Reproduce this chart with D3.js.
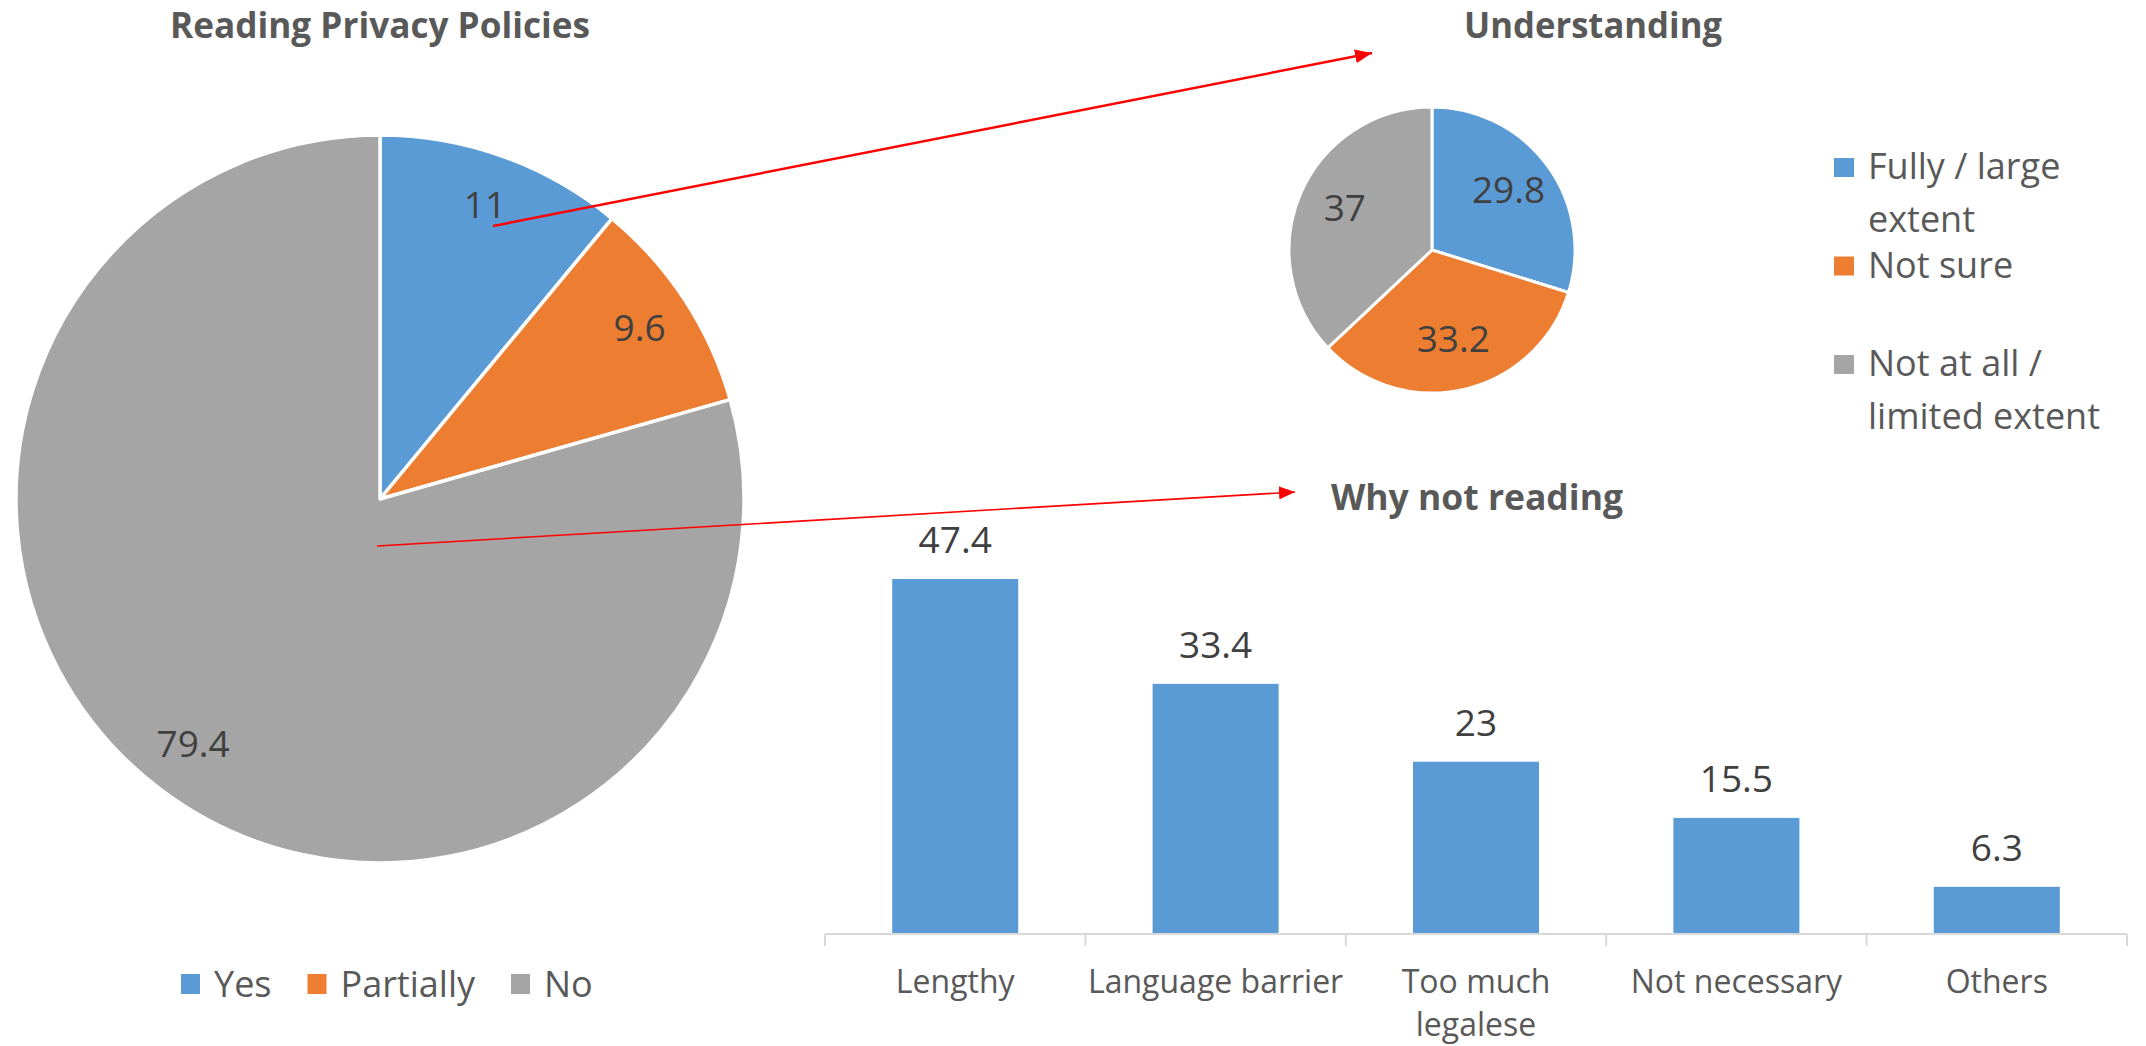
<!DOCTYPE html>
<html>
<head>
<meta charset="utf-8">
<script src="https://cdn.jsdelivr.net/npm/d3@7"></script>
<style>
  html, body { margin: 0; padding: 0; background: #ffffff; }
  svg { display: block; }
  text { font-family: "Open Sans", "Noto Sans", sans-serif; }
</style>
</head>
<body>
<svg id="chart" width="2146" height="1046"></svg>
<script>
// ---- data ----
const readingCategories = ["Yes", "Partially", "No"];
const readingValues = [11, 9.6, 79.4];

const understandingCategories = ["Fully / large extent", "Not sure", "Not at all / limited extent"];
const understandingLegendLines = [["Fully / large", "extent"], ["Not sure"], ["Not at all /", "limited extent"]];
const understandingValues = [29.8, 33.2, 37];

const reasonCategories = ["Lengthy", "Language barrier", "Too much legalese", "Not necessary", "Others"];
const reasonValues = [47.4, 33.4, 23, 15.5, 6.3];

const sliceColors = ["#5B9BD5", "#ED7D31", "#A5A5A5"];

// ---- styling ----
const titleColor = "#595959";
const labelColor = "#404040";
const legendColor = "#595959";
const axisColor = "#D9D9D9";

const svg = d3.select("#chart");

// red annotation arrows
const defs = svg.append("defs");
function arrowMarker(id, len, wid) {
  defs.append("marker")
    .attr("id", id)
    .attr("markerUnits", "userSpaceOnUse")
    .attr("viewBox", `0 0 ${len} ${wid}`)
    .attr("refX", len).attr("refY", wid / 2)
    .attr("markerWidth", len).attr("markerHeight", wid)
    .attr("orient", "auto")
    .append("path")
    .attr("d", `M0,0 L${len},${wid / 2} L0,${wid} Z`)
    .attr("fill", "#FF0000");
}
arrowMarker("arrowA", 17, 14);
arrowMarker("arrowB", 16, 13);

function title(text, x, y, width, anchor) {
  svg.append("text")
    .attr("x", x).attr("y", y)
    .attr("text-anchor", anchor)
    .attr("font-size", 35)
    .attr("font-weight", 700)
    .attr("fill", titleColor)
    .attr("textLength", width)
    .attr("lengthAdjust", "spacingAndGlyphs")
    .text(text);
}

// ---- main pie: reading privacy policies ----
const pie = d3.pie().sort(null).value(d => d);

const bigCx = 380, bigCy = 499, bigR = 364;
const bigG = svg.append("g").attr("transform", `translate(${bigCx},${bigCy})`);
const bigArc = d3.arc().innerRadius(0).outerRadius(bigR);
const bigLabelArc = d3.arc().innerRadius(310).outerRadius(310);
const bigData = pie(readingValues);

bigG.selectAll("path.slice")
  .data(bigData)
  .join("path")
  .attr("class", "slice")
  .attr("d", bigArc)
  .attr("fill", (d, i) => sliceColors[i])
  .attr("stroke", "#ffffff")
  .attr("stroke-width", 3.5)
  .attr("stroke-linejoin", "round");

bigG.selectAll("text.val")
  .data(bigData)
  .join("text")
  .attr("class", "val")
  .attr("x", d => bigLabelArc.centroid(d)[0])
  .attr("y", d => bigLabelArc.centroid(d)[1] + 11)
  .attr("text-anchor", "middle")
  .attr("font-size", 37)
  .attr("fill", labelColor)
  .text(d => d.data);

title("Reading Privacy Policies", bigCx, 38, 420, "middle");

// bottom legend
const legendFont = 36;
const bottomLegend = svg.append("g");
let lx = 181;
readingCategories.forEach((name, i) => {
  bottomLegend.append("rect")
    .attr("x", lx).attr("y", 974)
    .attr("width", 19).attr("height", 20)
    .attr("fill", sliceColors[i]);
  const t = bottomLegend.append("text")
    .attr("x", lx + 33).attr("y", 997)
    .attr("font-size", legendFont)
    .attr("fill", legendColor)
    .text(name);
  lx += 33 + t.node().getComputedTextLength() + 36;
});

// ---- small pie: understanding ----
const smCx = 1432, smCy = 250, smR = 143;
const smG = svg.append("g").attr("transform", `translate(${smCx},${smCy})`);
const smArc = d3.arc().innerRadius(0).outerRadius(smR);
const smLabelArc = d3.arc().innerRadius(95).outerRadius(95);
const smData = pie(understandingValues);

smG.selectAll("path.slice")
  .data(smData)
  .join("path")
  .attr("class", "slice")
  .attr("d", smArc)
  .attr("fill", (d, i) => sliceColors[i])
  .attr("stroke", "#ffffff")
  .attr("stroke-width", 3)
  .attr("stroke-linejoin", "round");

smG.selectAll("text.val")
  .data(smData)
  .join("text")
  .attr("class", "val")
  .attr("x", d => smLabelArc.centroid(d)[0])
  .attr("y", d => smLabelArc.centroid(d)[1] + 9)
  .attr("text-anchor", "middle")
  .attr("font-size", 37)
  .attr("fill", labelColor)
  .text(d => d.data);

title("Understanding", 1464, 38, 258, "start");

// right legend
const rightLegend = svg.append("g");
understandingCategories.forEach((name, i) => {
  const base = 179 + i * 98.5;
  rightLegend.append("rect")
    .attr("x", 1834).attr("y", base - 21)
    .attr("width", 20).attr("height", 19)
    .attr("fill", sliceColors[i]);
  const t = rightLegend.append("text")
    .attr("font-size", legendFont)
    .attr("fill", legendColor);
  understandingLegendLines[i].forEach((line, j) => {
    t.append("tspan")
      .attr("x", 1868)
      .attr("y", base + j * 53)
      .text(line);
  });
});

// ---- bar chart: why not reading ----
const axisY = 934;
const x = d3.scaleBand()
  .domain(reasonCategories)
  .range([825, 2127])
  .paddingInner(0.516)
  .paddingOuter(0.258);
const y = d3.scaleLinear().domain([0, 50]).range([axisY, axisY - 374.5]);

const barG = svg.append("g");
barG.selectAll("rect.bar")
  .data(reasonValues)
  .join("rect")
  .attr("class", "bar")
  .attr("x", (d, i) => x(reasonCategories[i]))
  .attr("y", d => y(d))
  .attr("width", x.bandwidth())
  .attr("height", d => y(0) - y(d))
  .attr("fill", "#5B9BD5");

barG.selectAll("text.val")
  .data(reasonValues)
  .join("text")
  .attr("class", "val")
  .attr("x", (d, i) => x(reasonCategories[i]) + x.bandwidth() / 2)
  .attr("y", d => y(d) - 26)
  .attr("text-anchor", "middle")
  .attr("font-size", 37)
  .attr("fill", labelColor)
  .text(d => d);

// category axis: labels under each band, tick marks on band boundaries
const axisG = svg.append("g").attr("transform", `translate(0,${axisY})`);
axisG.call(d3.axisBottom(x).tickSize(0).tickPadding(0));
axisG.select(".domain")
  .attr("d", `M${x.range()[0]},0H${x.range()[1]}`)
  .attr("stroke", axisColor)
  .attr("stroke-width", 2);
const boundaries = d3.range(reasonCategories.length + 1).map(i => x.range()[0] + i * x.step());
axisG.selectAll("line.bound")
  .data(boundaries)
  .join("line")
  .attr("class", "bound")
  .attr("x1", d => d).attr("x2", d => d)
  .attr("y1", 0).attr("y2", 12)
  .attr("stroke", axisColor)
  .attr("stroke-width", 2);

axisG.selectAll(".tick text")
  .attr("font-family", "Open Sans")
  .attr("font-size", 32)
  .attr("fill", legendColor)
  .attr("y", 59)
  .attr("dy", 0)
  .each(function () {
    // wrap long category names over two lines
    const el = d3.select(this);
    const words = el.text().split(" ");
    el.text(null);
    let line = [];
    let lineNo = 0;
    let tspan = el.append("tspan").attr("x", 0).attr("y", 59);
    words.forEach(w => {
      line.push(w);
      tspan.text(line.join(" "));
      if (tspan.node().getComputedTextLength() > x.step() - 2 && line.length > 1) {
        line.pop();
        tspan.text(line.join(" "));
        line = [w];
        lineNo += 1;
        tspan = el.append("tspan").attr("x", 0).attr("y", 59 + lineNo * 43).text(w);
      }
    });
  });

title("Why not reading", 1331, 510, 292, "start");

// ---- annotation arrows ----
svg.append("line")
  .attr("x1", 493).attr("y1", 226)
  .attr("x2", 1372).attr("y2", 53)
  .attr("stroke", "#FF0000").attr("stroke-width", 2.5)
  .attr("marker-end", "url(#arrowA)");
svg.append("line")
  .attr("x1", 377).attr("y1", 546)
  .attr("x2", 1295).attr("y2", 492)
  .attr("stroke", "#FF0000").attr("stroke-width", 1.6)
  .attr("marker-end", "url(#arrowB)");
</script>
</body>
</html>
